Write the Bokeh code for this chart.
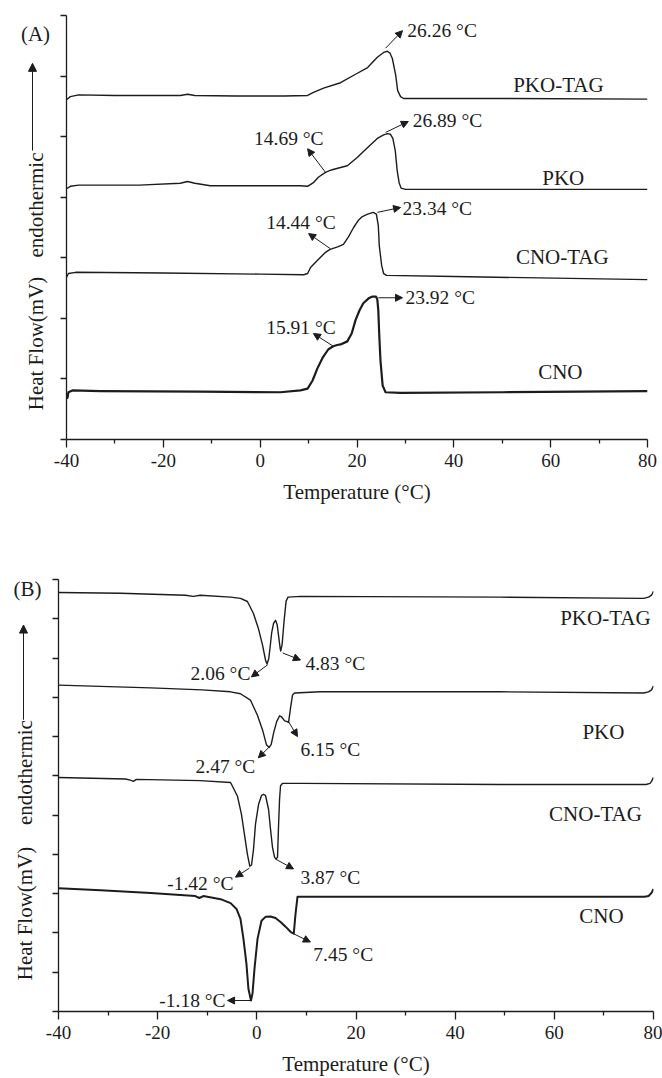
import math
from bokeh.plotting import figure
from bokeh.models import Label, Arrow, NormalHead, FixedTicker, Range1d
from bokeh.layouts import column, row
from bokeh.embed import file_html
from bokeh.resources import INLINE
from bokeh.core.properties import value

# ---------------- data ----------------
X_MAJOR = [-40, -20, 0, 20, 40, 60, 80]
X_MINOR = [-30, -10, 10, 30, 50, 70]
X_LABEL = "Temperature (°C)"
Y_LABEL_PARTS = ["Heat Flow(mV)", "endothermic"]

# Panel A (melting)
A_PKO_TAG_T = [-40.0, -39.2, -37.5, -30.0, -22.0, -16.5, -15.0, -13.5, -5.0, 5.0, 9.8, 11.0, 13.1, 16.6, 19.7,
               22.2, 24.2, 25.5, 26.26, 26.8, 27.3, 28.0, 28.4, 29.0, 29.6, 31.0, 50.0, 80.0]
A_PKO_TAG_HF = [5.61, 5.66, 5.69, 5.68, 5.68, 5.68, 5.70, 5.68, 5.67, 5.67, 5.68, 5.73, 5.80, 5.89, 6.03,
                6.14, 6.31, 6.39, 6.41, 6.38, 6.29, 6.01, 5.76, 5.66, 5.63, 5.63, 5.63, 5.62]

A_PKO_T = [-40.0, -39.2, -37.5, -25.0, -16.5, -15.0, -13.5, -10.3, 0.0, 8.3, 9.8, 11.0, 12.0, 13.5, 14.69, 16.6,
           18.0, 20.1, 22.2, 24.2, 25.5, 26.3, 26.89, 27.4, 27.9, 28.3, 28.7, 29.1, 30.0, 50.0, 80.0]
A_PKO_HF = [4.14, 4.18, 4.20, 4.20, 4.23, 4.26, 4.23, 4.19, 4.19, 4.19, 4.18, 4.24, 4.33, 4.41, 4.45, 4.49,
            4.52, 4.66, 4.82, 4.97, 5.03, 5.05, 5.04, 4.97, 4.77, 4.44, 4.24, 4.15, 4.13, 4.13, 4.13]

A_CNO_TAG_T = [-40.0, -39.6, -38.1, -20.0, 0.0, 9.0, 9.8, 10.4, 12.0, 13.5, 14.44, 16.0, 17.2, 18.2, 19.3,
               20.3, 21.1, 22.2, 23.34, 24.0, 24.4, 24.6, 25.1, 25.5, 26.1, 40.0, 80.0]
A_CNO_TAG_HF = [2.68, 2.74, 2.76, 2.75, 2.73, 2.72, 2.74, 2.84, 2.97, 3.09, 3.14, 3.18, 3.22, 3.34, 3.50,
                3.62, 3.68, 3.72, 3.75, 3.72, 3.53, 3.20, 2.87, 2.74, 2.71, 2.69, 2.64]

A_CNO_T = [-40.0, -39.8, -39.6, -38.8, -33.0, -12.3, 4.2, 8.3, 9.8, 10.8, 11.8, 12.9, 14.1, 15.1, 15.91, 16.6,
           18.0, 18.9, 19.7, 20.5, 21.3, 22.4, 23.2, 23.92, 24.2, 24.4, 24.6, 24.85, 25.3, 25.9, 29.0, 50.0, 80.0]
A_CNO_HF = [0.68, 0.69, 0.78, 0.81, 0.80, 0.79, 0.78, 0.81, 0.84, 0.97, 1.17, 1.35, 1.49, 1.54, 1.56, 1.57,
            1.62, 1.75, 1.97, 2.13, 2.25, 2.33, 2.36, 2.36, 2.31, 2.13, 1.72, 1.30, 0.89, 0.78, 0.77, 0.78, 0.80]

A_NAMES = ["PKO-TAG", "PKO", "CNO-TAG", "CNO"]
A_NAME_X = [61.6, 62.6, 62.4, 62.0]
A_NAME_Y = [5.85, 4.31, 3.02, 1.11]

# peak annotations: value, text x, text y, align, arrow x0, y0, x1, y1
A_PEAKS = [26.26, 26.89, 14.69, 14.44, 23.34, 15.91, 23.92]
A_PEAK_TX = [30.4, 31.5, 13.1, 15.6, 29.4, 15.6, 30.0]
A_PEAK_TY = [6.75, 5.27, 4.97, 3.58, 3.81, 1.85, 2.34]
A_PEAK_AL = ["left", "left", "right", "right", "left", "right", "left"]
A_ARR_X0 = [25.9, 25.9, 13.5, 14.5, 24.2, 15.1, 24.4]
A_ARR_Y0 = [6.46, 5.07, 4.41, 3.15, 3.75, 1.54, 2.34]
A_ARR_X1 = [29.4, 30.6, 9.8, 10.0, 29.0, 11.0, 29.4]
A_ARR_Y1 = [6.75, 5.25, 4.80, 3.40, 3.83, 1.75, 2.34]

# Panel B (crystallisation)
B_PKO_TAG_T = [-40.0, -27.5, -14.4, -12.8, -11.4, -5.3, -3.3, -1.9, -0.7, 0.3, 1.15, 1.75, 2.06, 2.4, 2.7, 3.0,
               3.37, 3.77, 4.1, 4.4, 4.7, 4.83, 5.1, 5.5, 5.9, 6.3, 8.8, 49.0, 78.0, 79.0, 79.6, 80.0]
B_PKO_TAG_HF = [10.67, 10.65, 10.60, 10.57, 10.60, 10.55, 10.52, 10.44, 10.14, 9.76, 9.33, 8.95, 8.85, 8.98,
                9.30, 9.65, 9.88, 9.96, 9.85, 9.55, 9.25, 9.18, 9.35, 9.95, 10.45, 10.55, 10.57, 10.55, 10.52,
                10.55, 10.60, 10.70]

B_PKO_T = [-40.0, -21.4, -11.0, -5.3, -3.3, -1.3, 0.1, 1.15, 1.95, 2.47, 2.9, 3.4, 4.0, 4.6, 5.0, 5.6, 6.15, 6.4,
           6.8, 7.2, 7.6, 12.8, 49.0, 78.0, 79.0, 79.6, 80.0]
B_PKO_HF = [8.31, 8.24, 8.19, 8.14, 8.09, 7.93, 7.55, 7.17, 6.79, 6.72, 6.80, 7.10, 7.38, 7.53, 7.50, 7.40, 7.38,
            7.36, 7.73, 8.06, 8.11, 8.14, 8.14, 8.11, 8.14, 8.19, 8.29]

B_CNO_TAG_T = [-40.0, -26.5, -25.5, -24.9, -24.3, -11.4, -5.3, -3.9, -3.1, -2.5, -1.9, -1.42, -1.07, -0.67,
               -0.27, 0.34, 0.94, 1.35, 1.75, 2.36, 2.76, 3.16, 3.57, 3.87, 4.17, 4.37, 4.58, 4.78, 5.2, 8.8,
               49.0, 78.5, 79.3, 79.6, 80.0]
B_CNO_TAG_HF = [5.96, 5.92, 5.89, 5.86, 5.91, 5.88, 5.83, 5.48, 5.02, 4.51, 4.00, 3.70, 3.73, 4.13, 4.77, 5.27,
                5.50, 5.53, 5.50, 5.15, 4.64, 4.18, 3.93, 3.88, 3.93, 4.70, 5.40, 5.75, 5.81, 5.81, 5.78, 5.78,
                5.81, 5.86, 5.96]

B_CNO_T = [-40.0, -31.5, -21.4, -12.4, -11.6, -10.8, -7.3, -5.3, -4.1, -3.3, -2.7, -2.1, -1.7, -1.18, -0.87,
           -0.47, 0.14, 0.94, 1.75, 2.76, 3.77, 4.78, 5.79, 6.79, 7.45, 7.8, 8.2, 8.8, 49.0, 78.2, 79.0, 79.6, 80.0]
B_CNO_HF = [3.14, 3.09, 3.02, 2.94, 2.89, 2.94, 2.86, 2.76, 2.61, 2.36, 1.85, 1.22, 0.58, 0.28, 0.46, 1.09,
            1.85, 2.31, 2.41, 2.42, 2.38, 2.28, 2.16, 2.03, 1.98, 2.48, 2.92, 2.92, 2.92, 2.92, 2.94, 3.02, 3.12]

B_NAMES = ["PKO-TAG", "PKO", "CNO-TAG", "CNO"]
B_NAME_X = [70.3, 69.9, 68.3, 69.5]
B_NAME_Y = [10.03, 7.12, 5.02, 2.43]

B_PEAKS = [2.06, 4.83, 2.47, 6.15, -1.42, 3.87, -1.18, 7.45]
B_PEAK_TX = [-1.3, 9.8, -0.3, 8.8, -4.7, 8.8, -6.3, 11.4]
B_PEAK_TY = [8.61, 8.87, 6.24, 6.67, 3.27, 3.40, 0.28, 1.45]
B_PEAK_AL = ["right", "left", "right", "left", "right", "left", "right", "left"]
B_ARR_X0 = [2.2, 5.2, 2.4, 6.4, -1.5, 3.8, -1.3, 7.4]
B_ARR_Y0 = [8.83, 9.13, 6.72, 7.38, 3.65, 3.88, 0.28, 1.98]
B_ARR_X1 = [-1.1, 8.8, 0.3, 8.2, -4.3, 7.4, -5.9, 10.8]
B_ARR_Y1 = [8.52, 8.95, 6.46, 7.00, 3.42, 3.63, 0.28, 1.77]

# side strip: x in strip pixels, y in the panel's own units
SIDE_A = dict(w=52, tag="(A)", tag_xy=(35, 6.70), lab_x=35, lab_y=[1.585, 3.872], arr=(32, 4.77, 32, 6.21))
SIDE_B = dict(w=44, tag="(B)", tag_xy=(27, 10.75), lab_x=24, lab_y=[2.497, 6.084], arr=(23, 7.43, 23, 9.84))

# ---------------- style ----------------
SERIF = "Liberation Serif"
INK = "#1c1c1c"


def make_panel(w, h, ymax, bl, br, bt, bb):
    p = figure(width=w, height=h, x_range=(-40, 80), y_range=(0, ymax),
               output_backend="svg", toolbar_location=None,
               min_border_left=bl, min_border_right=br, min_border_top=bt, min_border_bottom=bb,
               background_fill_color="white", border_fill_color="white")
    p.xgrid.visible = False
    p.ygrid.visible = False
    p.outline_line_color = None
    xa = p.xaxis[0]
    xa.ticker = FixedTicker(ticks=X_MAJOR, minor_ticks=X_MINOR)
    xa.major_label_overrides = {t: str(t) for t in X_MAJOR}
    xa.major_tick_in = 0
    xa.major_tick_out = 8
    xa.minor_tick_in = 0
    xa.minor_tick_out = 4
    for a in (xa, p.yaxis[0]):
        a.axis_line_width = 1.3
        a.axis_line_color = INK
        a.major_tick_line_width = 1.3
        a.major_tick_line_color = INK
        a.minor_tick_line_width = 1.3
        a.minor_tick_line_color = INK
    xa.major_label_text_font = SERIF
    xa.major_label_text_font_size = "19px"
    xa.major_label_text_color = INK
    xa.major_label_standoff = 6
    xa.axis_label = X_LABEL
    xa.axis_label_text_font = SERIF
    xa.axis_label_text_font_size = "21px"
    xa.axis_label_text_font_style = "normal"
    xa.axis_label_text_color = INK
    xa.axis_label_standoff = 10
    ya = p.yaxis[0]
    yt = list(range(0, ymax + 1))
    ya.ticker = FixedTicker(ticks=yt, minor_ticks=[])
    ya.major_label_overrides = {t: "" for t in yt}
    ya.major_tick_in = 0
    ya.major_tick_out = 6
    ya.minor_tick_in = 0
    ya.minor_tick_out = 0
    return p


def label(p, x, y, text, size="21px", align="center"):
    p.add_layout(Label(x=x, y=y, text=text, text_font=SERIF, text_font_size=size, text_color=INK,
                       text_align=align, text_baseline="middle"))


def arrow(p, x0, y0, x1, y1, size=7):
    p.add_layout(Arrow(x_start=x0, y_start=y0, x_end=x1, y_end=y1, line_color=INK, line_width=1,
                       end=NormalHead(size=size, fill_color=INK, line_color=INK, line_width=1)))


def decorate(p, names, nx, ny, peaks, tx, ty, al, ax0, ay0, ax1, ay1):
    for n, x, y in zip(names, nx, ny):
        label(p, x, y, n, "21px")
    for v, x, y, a, x0, y0, x1, y1 in zip(peaks, tx, ty, al, ax0, ay0, ax1, ay1):
        label(p, x, y, f"{v:.2f} °C", "19.5px", a)
        arrow(p, x0, y0, x1, y1)


def side(spec, h, ymax, bt, bb):
    w = spec["w"]
    s = figure(width=w, height=h, x_range=Range1d(0, w), y_range=Range1d(0, ymax),
               output_backend="svg", toolbar_location=None, x_axis_location=None, y_axis_location=None,
               min_border_left=0, min_border_right=0, min_border_top=bt, min_border_bottom=bb,
               background_fill_color="white", border_fill_color="white")
    s.outline_line_color = None
    s.xgrid.visible = False
    s.ygrid.visible = False
    tx, ty = spec["tag_xy"]
    s.text(x=[tx], y=[ty], text=[spec["tag"]], text_font=value(SERIF), text_font_size="21px",
           text_color=INK, text_align="center", text_baseline="middle")
    s.text(x=[spec["lab_x"]] * 2, y=spec["lab_y"], text=Y_LABEL_PARTS, text_font=value(SERIF),
           text_font_size="21px", text_color=INK, text_align="center", text_baseline="middle",
           angle=math.pi / 2)
    x0, y0, x1, y1 = spec["arr"]
    arrow(s, x0, y0, x1, y1, 8)
    return s


# Panel A
HA, BT_A, BB_A = 540, 15, 101
pA = make_panel(662 - SIDE_A["w"], HA, 7, 14, 15, BT_A, BB_A)
for T, HF, w in [(A_PKO_TAG_T, A_PKO_TAG_HF, 1.4), (A_PKO_T, A_PKO_HF, 1.4),
                 (A_CNO_TAG_T, A_CNO_TAG_HF, 1.4), (A_CNO_T, A_CNO_HF, 2.2)]:
    pA.line(T, HF, line_color=INK, line_width=w, line_join="round")
decorate(pA, A_NAMES, A_NAME_X, A_NAME_Y, A_PEAKS, A_PEAK_TX, A_PEAK_TY, A_PEAK_AL,
         A_ARR_X0, A_ARR_Y0, A_ARR_X1, A_ARR_Y1)

# Panel B
HB, BT_B, BB_B = 538, 39, 65
pB = make_panel(662 - SIDE_B["w"], HB, 11, 14, 9, BT_B, BB_B)
for T, HF, w in [(B_PKO_TAG_T, B_PKO_TAG_HF, 1.4), (B_PKO_T, B_PKO_HF, 1.4),
                 (B_CNO_TAG_T, B_CNO_TAG_HF, 1.4), (B_CNO_T, B_CNO_HF, 2.0)]:
    pB.line(T, HF, line_color=INK, line_width=w, line_join="round")
decorate(pB, B_NAMES, B_NAME_X, B_NAME_Y, B_PEAKS, B_PEAK_TX, B_PEAK_TY, B_PEAK_AL,
         B_ARR_X0, B_ARR_Y0, B_ARR_X1, B_ARR_Y1)

layout = column(row(side(SIDE_A, HA, 7, BT_A, BB_A), pA, spacing=0),
                row(side(SIDE_B, HB, 11, BT_B, BB_B), pB, spacing=0), spacing=0)
open("out.html", "w").write(file_html(layout, INLINE))
